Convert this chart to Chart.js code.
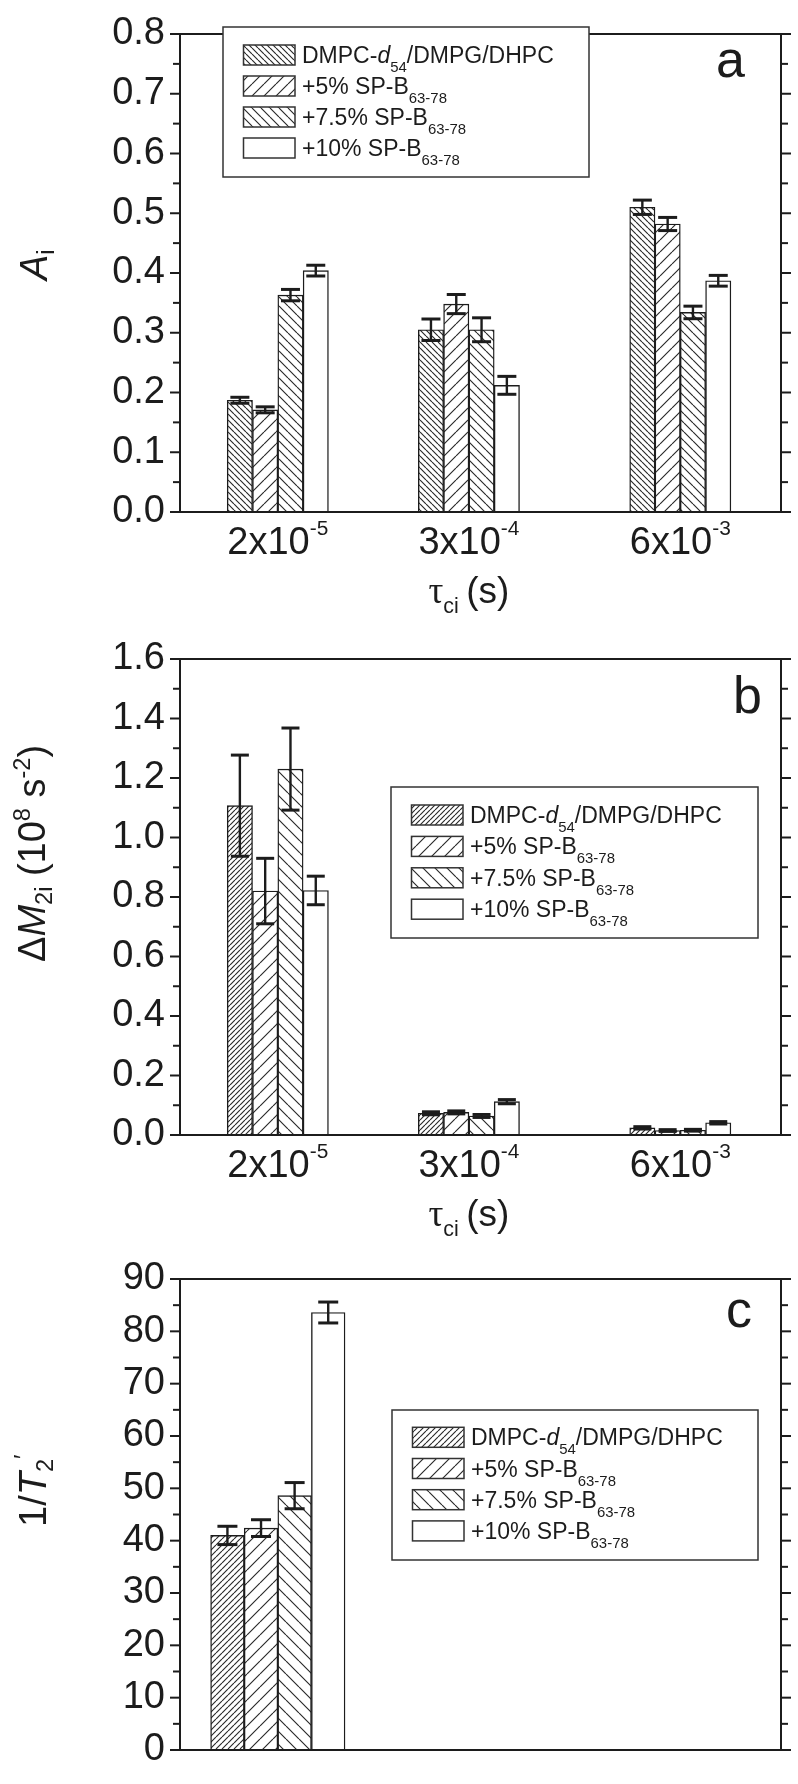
<!DOCTYPE html>
<html>
<head>
<meta charset="utf-8">
<script src="https://cdn.jsdelivr.net/npm/chart.js@4.4.1/dist/chart.umd.min.js"></script>
<style>
  html, body { margin: 0; padding: 0; background: #fff; }
  #wrap { position: relative; width: 798px; height: 1784px; }
  canvas { position: absolute; left: 0; }
</style>
</head>
<body>
<div id="wrap">
  <canvas id="chartA" width="798" height="625" style="top:0px"></canvas>
  <canvas id="chartB" width="798" height="620" style="top:625px"></canvas>
  <canvas id="chartC" width="798" height="539" style="top:1245px"></canvas>
</div>
<script>
const INK = "#1c1c1c";
const SANS = '"Liberation Sans", Arial, sans-serif';
const SERIF = '"Liberation Serif", "Times New Roman", serif';

// correlation times (s) + tick text
const tauValues = [2e-5, 3e-4, 6e-3];
const tickMantissa = ["2", "3", "6"];
const tickExponent = ["-5", "-4", "-3"];

// legend labels, [text, style]
const seriesLabels = [
  [["DMPC-"], ["d", "i"], ["54", "sub"], ["/DMPG/DHPC"]],
  [["+5% SP-B"], ["63-78", "sub"]],
  [["+7.5% SP-B"], ["63-78", "sub"]],
  [["+10% SP-B"], ["63-78", "sub"]]
];

// panel a : A_i
const ampDMPC = [0.187, 0.305, 0.510];
const ampSP5 = [0.171, 0.348, 0.482];
const ampSP75 = [0.363, 0.305, 0.334];
const ampSP10 = [0.404, 0.212, 0.387];
const ampDMPCErr = [0.005, 0.018, 0.012];
const ampSP5Err = [0.005, 0.016, 0.011];
const ampSP75Err = [0.0095, 0.020, 0.0105];
const ampSP10Err = [0.009, 0.015, 0.009];

// panel b : delta M2i (10^8 s^-2)
const m2DMPC = [1.107, 0.073, 0.024];
const m2SP5 = [0.82, 0.076, 0.015];
const m2SP75 = [1.23, 0.064, 0.016];
const m2SP10 = [0.822, 0.112, 0.041];
const m2DMPCErr = [0.17, 0.005, 0.004];
const m2SP5Err = [0.11, 0.005, 0.003];
const m2SP75Err = [0.138, 0.005, 0.003];
const m2SP10Err = [0.048, 0.007, 0.004];

// panel c : 1/T2' (one point per sample, drawn at the shortest tau)
const rateTau = [2e-5];
const rateDMPC = [41.0];
const rateSP5 = [42.4];
const rateSP75 = [48.6];
const rateSP10 = [83.6];
const rateDMPCErr = [1.75];
const rateSP5Err = [1.6];
const rateSP75Err = [2.5];
const rateSP10Err = [2.0];

Chart.defaults.font.family = SANS;
Chart.defaults.color = INK;

// diagonal hatch tile, dir "/" or "\\"
function hatch(dir, gap) {
  const c = document.createElement("canvas");
  c.width = gap; c.height = gap;
  const g = c.getContext("2d");
  g.fillStyle = "#fff";
  g.fillRect(0, 0, gap, gap);
  g.strokeStyle = "#2a2a2a";
  g.lineWidth = 1.15;
  g.beginPath();
  [-gap, 0, gap].forEach(k => {
    if (dir === "/") { g.moveTo(k, gap); g.lineTo(k + gap, 0); }
    else { g.moveTo(k, 0); g.lineTo(k + gap, gap); }
  });
  g.stroke();
  return g.createPattern(c, "repeat");
}

// text with italic / sub / sup pieces, returns width
function drawRich(ctx, x, y, parts, size, spec, measureOnly) {
  let cx = x;
  parts.forEach(([txt, style]) => {
    let fs = size, dy = 0, fam = SANS, slant = "";
    if (style === "i") slant = "italic ";
    if (style === "serif") fam = SERIF;
    if (style === "sub" || style === "sup") { fs = size * spec[style][0]; dy = spec[style][1]; }
    ctx.font = slant + fs + "px " + fam;
    if (!measureOnly) ctx.fillText(txt, cx, y + dy);
    cx += ctx.measureText(txt).width;
  });
  return cx - x;
}

function line(ctx, x1, y1, x2, y2) {
  ctx.beginPath(); ctx.moveTo(x1, y1); ctx.lineTo(x2, y2); ctx.stroke();
}

function decor(p) {
  return {
    id: "decor",
    afterDatasetsDraw(chart) {
      const ctx = chart.ctx;
      const ys = chart.scales.y;
      ctx.save();
      ctx.strokeStyle = INK;
      p.series.forEach((s, i) => {
        chart.getDatasetMeta(i).data.forEach((bar, j) => {
          const y1 = ys.getPixelForValue(s.values[j] + s.errs[j]);
          const y2 = ys.getPixelForValue(s.values[j] - s.errs[j]);
          ctx.lineWidth = 2.4;
          line(ctx, bar.x, y1, bar.x, y2);
          ctx.lineWidth = 3;
          line(ctx, bar.x - p.cap / 2, y1, bar.x + p.cap / 2, y1);
          line(ctx, bar.x - p.cap / 2, y2, bar.x + p.cap / 2, y2);
        });
      });
      ctx.restore();
    },
    afterDraw(chart) {
      const ctx = chart.ctx;
      const { left, right, top, bottom } = chart.chartArea;
      const ys = chart.scales.y, xs = chart.scales.x;
      ctx.save();
      ctx.strokeStyle = INK;
      ctx.fillStyle = INK;
      ctx.lineWidth = 2;
      ctx.strokeRect(left, top, right - left, bottom - top);

      // major + minor ticks, outside on both sides
      const tv = ys.ticks.map(t => t.value);
      tv.forEach(v => {
        const py = ys.getPixelForValue(v);
        line(ctx, left - 10, py, left, py);
        line(ctx, right, py, right + 10, py);
      });
      for (let k = 0; k < tv.length - 1; k++) {
        const py = ys.getPixelForValue((tv[k] + tv[k + 1]) / 2);
        line(ctx, left - 7, py, left, py);
        line(ctx, right, py, right + 7, py);
      }

      ctx.textAlign = "left";
      ctx.textBaseline = "alphabetic";

      // x tick labels like 2x10^-5
      if (p.xTicks) {
        tauValues.forEach((t, j) => {
          const parts = [[tickMantissa[j] + "x10"], [tickExponent[j], "sup"]];
          const spec = { sup: [0.55, -19] };
          const w = drawRich(ctx, 0, 0, parts, 38, spec, true);
          drawRich(ctx, xs.getPixelForValue(t) - w / 2, bottom + 42, parts, 38, spec);
        });
        // axis title under the middle tick
        const tparts = [["\u03c4", "serif"], ["ci", "sub"], ["\u2009(s)"]];
        const tspec = { sub: [0.58, 10] };
        const tw = drawRich(ctx, 0, 0, tparts, 37, tspec, true);
        drawRich(ctx, xs.getPixelForValue(tauValues[1]) - tw / 2, bottom + 91, tparts, 37, tspec);
      }

      // y title, rotated
      ctx.save();
      ctx.translate(p.yTitleAt[0], p.yTitleAt[1]);
      ctx.rotate(-Math.PI / 2);
      drawRich(ctx, 0, 0, p.yTitle, 38, { sub: [0.62, 7], sup: [0.62, -15] });
      ctx.restore();

      // panel letter
      ctx.font = "52px " + SANS;
      ctx.fillText(p.letter, p.letterAt[0], p.letterAt[1]);

      // legend
      const [bx, by, bw, bh] = p.legendBox;
      ctx.fillStyle = "#fff";
      ctx.fillRect(bx, by, bw, bh);
      ctx.lineWidth = 1.5;
      ctx.strokeStyle = "#333";
      ctx.strokeRect(bx, by, bw, bh);
      p.series.forEach((s, i) => {
        const ry = p.legendRow0 + i * p.legendStep;
        ctx.fillStyle = s.fill;
        ctx.fillRect(bx + 20.5, ry, 51.5, 20);
        ctx.strokeRect(bx + 20.5, ry, 51.5, 20);
        ctx.fillStyle = INK;
        drawRich(ctx, bx + 79, ry + 18, seriesLabels[i], 23, { sub: [0.65, 9] });
      });
      ctx.restore();
    }
  };
}

function makePanel(p) {
  return new Chart(document.getElementById(p.canvasId), {
    type: "bar",
    data: {
      datasets: p.series.map((s, i) => ({
        label: seriesLabels[i].map(x => x[0]).join(""),
        data: p.xs.map((t, j) => ({ x: t, y: s.values[j] })),
        backgroundColor: s.fill,
        borderColor: INK,
        borderWidth: 1.4,
        borderSkipped: false,
        barThickness: p.barWidth
      }))
    },
    options: {
      responsive: false,
      animation: false,
      devicePixelRatio: 1,
      layout: { padding: { top: p.top, right: 17, bottom: 0, left: 0 } },
      plugins: { legend: { display: false }, tooltip: { enabled: false } },
      scales: {
        x: {
          type: "logarithmic",
          min: 5e-6,
          max: 2.5e-2,
          bounds: "data",
          ticks: { display: false },
          grid: { display: false },
          border: { display: false },
          afterFit: s => { s.height = p.height - p.bottom; }
        },
        y: {
          min: 0,
          max: p.yMax,
          ticks: {
            stepSize: p.yStep,
            autoSkip: false,
            padding: 15,
            color: INK,
            font: { family: SANS, size: 38, lineHeight: 1 },
            callback: v => Number(v).toFixed(p.digits)
          },
          grid: { display: false, drawTicks: false },
          border: { display: false },
          afterFit: s => { s.width = 180; }
        }
      }
    },
    plugins: [decor(p)]
  });
}

makePanel({
  canvasId: "chartA", height: 625, top: 23, bottom: 512,
  yMax: 0.8, yStep: 0.1, digits: 1,
  xs: tauValues, xTicks: true, barWidth: 25.3, cap: 19,
  series: [
    { values: ampDMPC, errs: ampDMPCErr, fill: hatch("\\", 6) },
    { values: ampSP5, errs: ampSP5Err, fill: hatch("/", 12) },
    { values: ampSP75, errs: ampSP75Err, fill: hatch("\\", 9) },
    { values: ampSP10, errs: ampSP10Err, fill: "#fff" }
  ],
  yTitle: [["A", "i"], ["i", "sub"]], yTitleAt: [47, 280],
  letter: "a", letterAt: [716, 77],
  legendBox: [223, 27, 366, 150], legendRow0: 45, legendStep: 31
});

makePanel({
  canvasId: "chartB", height: 620, top: 20, bottom: 510,
  yMax: 1.6, yStep: 0.2, digits: 1,
  xs: tauValues, xTicks: true, barWidth: 25.3, cap: 18,
  series: [
    { values: m2DMPC, errs: m2DMPCErr, fill: hatch("/", 5) },
    { values: m2SP5, errs: m2SP5Err, fill: hatch("/", 13) },
    { values: m2SP75, errs: m2SP75Err, fill: hatch("\\", 12) },
    { values: m2SP10, errs: m2SP10Err, fill: "#fff" }
  ],
  yTitle: [["\u0394"], ["M", "i"], ["2i", "sub"], [" (10"], ["8", "sup"], [" s"], ["-2", "sup"], [")"]],
  yTitleAt: [45, 337],
  letter: "b", letterAt: [733, 88],
  legendBox: [391, 162, 367, 151], legendRow0: 180, legendStep: 31.4
});

makePanel({
  canvasId: "chartC", height: 539, top: 27, bottom: 517,
  yMax: 90, yStep: 10, digits: 0,
  xs: rateTau, xTicks: false, barWidth: 33.6, cap: 20,
  series: [
    { values: rateDMPC, errs: rateDMPCErr, fill: hatch("/", 6) },
    { values: rateSP5, errs: rateSP5Err, fill: hatch("/", 13) },
    { values: rateSP75, errs: rateSP75Err, fill: hatch("\\", 13) },
    { values: rateSP10, errs: rateSP10Err, fill: "#fff" }
  ],
  yTitle: [["1/"], ["T", "i"], ["2", "sub"], ["\u2032", "sup"]], yTitleAt: [46, 282],
  letter: "c", letterAt: [726, 82],
  legendBox: [392, 165, 366, 150], legendRow0: 182.3, legendStep: 31.2
});
</script>
</body>
</html>
